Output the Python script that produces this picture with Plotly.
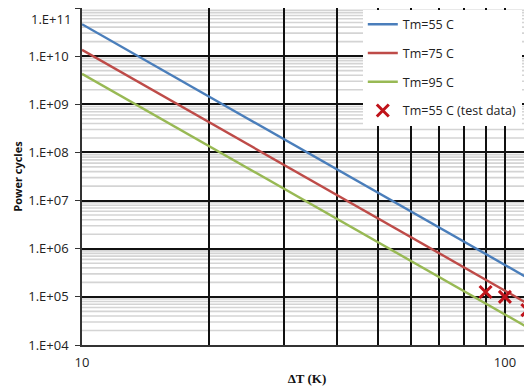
import plotly.graph_objects as go

# Data
dT_line = [10, 120]
cycles_55 = [4.6e10, 1.85e5]
cycles_75 = [1.35e10, 5.4e4]
cycles_95 = [4.3e9, 1.73e4]

dT_test = [90, 100, 113]
cycles_test = [1.26e5, 1.0e5, 5.3e4]

y_ticks = [1e4, 1e5, 1e6, 1e7, 1e8, 1e9, 1e10, 1e11]
y_ticktext = ["1.E+04", "1.E+05", "1.E+06", "1.E+07", "1.E+08", "1.E+09", "1.E+10", "1.E+11"]
x_ticks = [10, 20, 30, 40, 50, 60, 70, 80, 90, 100]
x_ticktext = ["10", "", "", "", "", "", "", "", "", "100"]

y_minor = [m * 10 ** e for e in range(4, 11) for m in range(2, 10)]

fig = go.Figure()
fig.add_trace(go.Scatter(x=dT_line, y=cycles_55, mode="lines", name="Tm=55 C",
                         line=dict(color="#4a7ebb", width=2.4), legendgroup="a"))
fig.add_trace(go.Scatter(x=dT_line, y=cycles_75, mode="lines", name="Tm=75 C",
                         line=dict(color="#be4b48", width=2.4), legendgroup="b"))
fig.add_trace(go.Scatter(x=dT_line, y=cycles_95, mode="lines", name="Tm=95 C",
                         line=dict(color="#98b954", width=2.4), legendgroup="c"))
fig.add_trace(go.Scatter(x=dT_test, y=cycles_test, mode="markers", name="Tm=55 C (test data)",
                         marker=dict(symbol="x-thin", size=12, color="#c0141b",
                                     line=dict(width=3, color="#c0141b")), legendgroup="d"))

# light grey minor horizontal gridlines drawn beneath the black gridlines
for v in y_minor:
    fig.add_shape(type="line", xref="paper", x0=0, x1=1, yref="y", y0=v, y1=v,
                  line=dict(color="#d4d4d4", width=1.6), layer="below")

# top tick label (plotly drops the label sitting on the figure edge)
fig.add_annotation(x=0, xref="paper", xanchor="right", xshift=-9,
                   y=11, yref="y", yanchor="top", text=y_ticktext[-1],
                   showarrow=False, font=dict(size=13, color="#222"))

fig.update_layout(
    width=524, height=384,
    margin=dict(l=74, r=0, t=0, b=47),
    paper_bgcolor="white", plot_bgcolor="white",
    font=dict(family="Open Sans, Liberation Sans, sans-serif", size=12, color="#222"),
    showlegend=True,
    legend=dict(x=0.624, y=0.995, xanchor="left", yanchor="top",
                bgcolor="white", borderwidth=0, tracegroupgap=9.5,
                font=dict(size=12.5, color="#222")),
    xaxis=dict(type="log", range=[1, 2.064], automargin=False,
               tickvals=x_ticks, ticktext=x_ticktext, ticks="",
               tickfont=dict(size=13), ticklabelstandoff=5,
               showgrid=True, gridcolor="#111", gridwidth=1.6,
               showline=True, linecolor="#333", linewidth=1.5, mirror=False,
               zeroline=False,
               title=dict(text="<b>ΔT (K)</b>", font=dict(family="Liberation Serif, serif", size=13, color="#111"),
                          standoff=4)),
    yaxis=dict(type="log", range=[4, 11], automargin=False,
               tickvals=y_ticks, ticktext=y_ticktext, ticks="outside", ticklen=5,
               tickcolor="#333", tickfont=dict(size=13), ticklabelstandoff=4,
               showgrid=True, gridcolor="#111", gridwidth=1.6,
               showline=True, linecolor="#333", linewidth=1.5,
               zeroline=False,
               title=dict(text="<b>Power cycles</b>", font=dict(family="Open Sans, sans-serif", size=11, color="#111"),
                          standoff=3)),
)

fig.write_html("out.html")
